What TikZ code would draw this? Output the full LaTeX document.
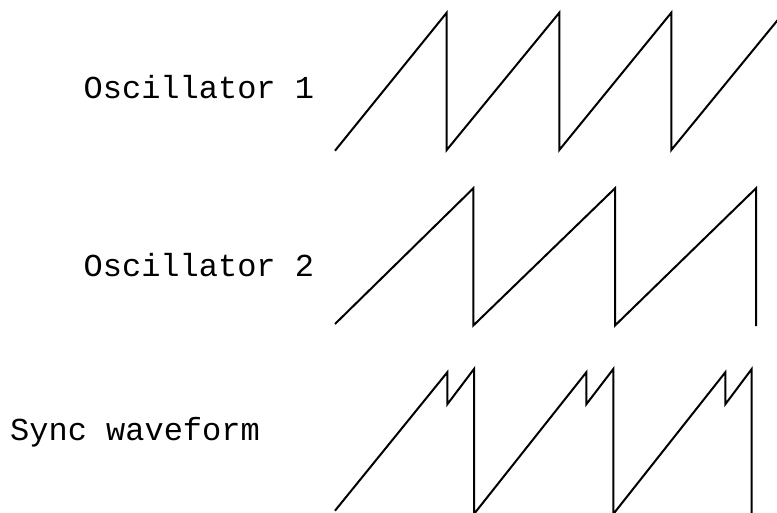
\documentclass[tikz,border=0pt]{standalone}
\usepackage{fontspec}
\setmonofont{Liberation Mono}
\begin{document}
\begin{tikzpicture}[x=1pt,y=-1pt,
  wave/.style={line width=2pt,line join=miter,black},
  lbl/.style={font=\ttfamily\fontsize{32}{36}\selectfont,anchor=base west,inner sep=0pt}]
\useasboundingbox (0,0) rectangle (777,512);
\clip (0,0) rectangle (777,512);
% labels
\node[lbl] (l1) at (83.5,98.3) {Oscillator 1};
\node[lbl] (l2) at (83.5,276.7) {Oscillator 2};
\node[lbl] (l3) at (10,440) {Sync waveform};
% oscillator 1
\draw[wave] (335,150.7) -- (446.7,12.7) -- (446.7,150) -- (559.3,12.7) -- (559.3,150)
  -- (671.3,12.7) -- (671.3,150) -- (783.7,12.7);
% oscillator 2
\draw[wave] (335,324) -- (473.3,188.3) -- (473.3,325.5) -- (615,188.3) -- (615,325.5)
  -- (756,188.3) -- (756,326);
% sync waveform
\draw[wave] (335,510.7) -- (447.3,372.3) -- (447.3,404.3) -- (474,369) -- (474,514)
  -- (586.3,372.3) -- (586.3,404.3) -- (613.3,369) -- (613.3,514)
  -- (725.3,372.3) -- (725.3,404.3) -- (751.7,369) -- (751.7,514);
\end{tikzpicture}
\end{document}
